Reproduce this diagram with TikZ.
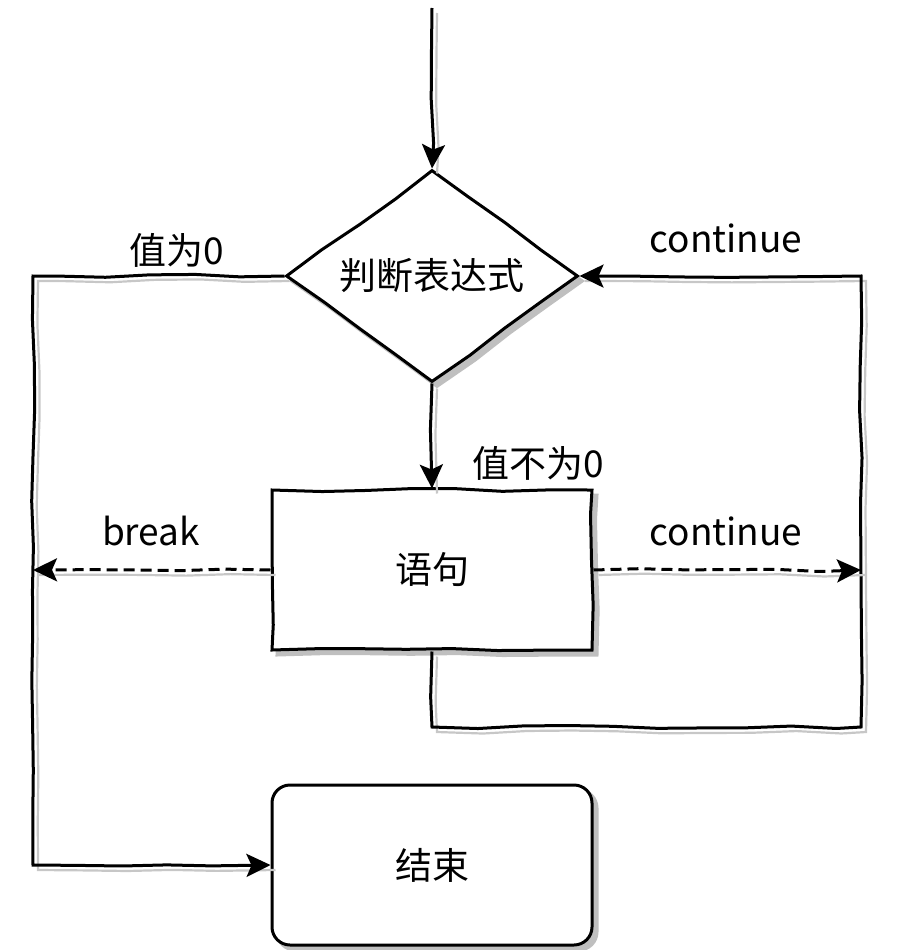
\documentclass[tikz,border=0pt]{standalone}
\usepackage{fontspec}
\newfontfamily\cjk{Noto Sans CJK SC}
\usetikzlibrary{arrows.meta,shapes.geometric,decorations.pathmorphing}

\begin{document}
\begin{tikzpicture}[x=1pt,y=-1pt,
    every node/.style={font=\cjk\fontsize{37}{42}\selectfont},
    wobble/.style={decoration={random steps,segment length=45pt,amplitude=1.6pt},decorate},
    shade/.style={preaction={fill=black!25,draw=black!25,transform canvas={shift={(5pt,-5pt)}}}},
    link/.style={line width=3pt,wobble,-{Stealth[length=24pt,width=23pt,inset=5pt]},
        preaction={draw=black!22,line width=2.2pt,-,transform canvas={shift={(5pt,-5pt)}}}},
    box/.style={draw,line width=3pt,fill=white,shade,minimum width=320pt,minimum height=160pt}]
\pgfmathsetseed{7}
\useasboundingbox (0,0) rectangle (905,950);

% nodes
\coordinate (top) at (432,8);
\node[diamond,aspect=1.4,draw,line width=3pt,fill=white,shade,wobble,
      minimum width=292pt,minimum height=212pt,inner sep=0pt] (cond) at (432,276) {判断表达式};
\node[box,wobble] (stmt) at (432,570) {语句};
\node[box,rounded corners=18pt] (stop) at (432,865) {结束};
\coordinate (leftx) at (33,276);
\coordinate (rightx) at (861,727);

% labels
\node (zero) at (177,250) {值为0};
\node (nonzero) at (538,463) {值不为0};
\node (brk) at (151,531) {break};
\node (cont1) at (726,238) {continue};
\node (cont2) at (726,531) {continue};

% connectors
\draw[link] (top) -- (cond.north);
\draw[link] (cond.south) -- (stmt.north);
\draw[link] (cond.west) -- (leftx) |- (stop.west);
\draw[link] (stmt.south) |- (rightx) |- (cond.east);
\draw[link,dash pattern=on 11pt off 6pt] (stmt.west) -- (stmt.west -| leftx);
\draw[link,dash pattern=on 11pt off 6pt] (stmt.east) -- (stmt.east -| rightx);
\end{tikzpicture}
\end{document}
